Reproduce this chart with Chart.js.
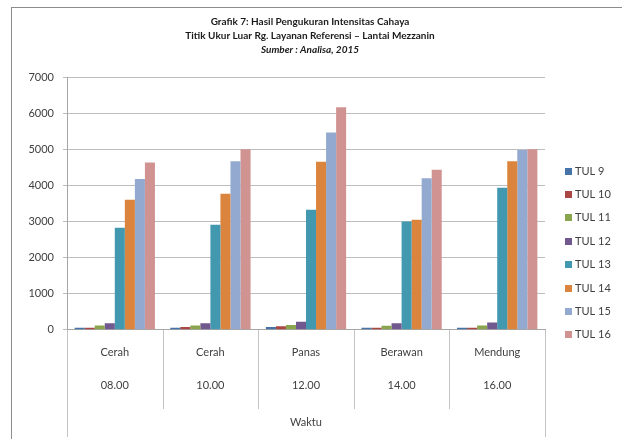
<!DOCTYPE html>
<html>
<head>
<meta charset="utf-8">
<script src="https://cdn.jsdelivr.net/npm/chart.js@4/dist/chart.umd.min.js"></script>
<style>
  html, body { margin: 0; padding: 0; background: #ffffff; }
  #wrap { width: 622px; height: 439px; position: relative; }
</style>
</head>
<body>
<div id="wrap"><canvas id="c" width="622" height="439"></canvas></div>
<script>
// Light intensity (lux) per measuring point, per observation time
const conditions = ['Cerah', 'Cerah', 'Panas', 'Berawan', 'Mendung'];
const times = ['08.00', '10.00', '12.00', '14.00', '16.00'];
const seriesNames = ['TUL 9', 'TUL 10', 'TUL 11', 'TUL 12', 'TUL 13', 'TUL 14', 'TUL 15', 'TUL 16'];

const tul9  = [60, 60, 80, 55, 55];
const tul10 = [55, 80, 100, 55, 55];
const tul11 = [120, 120, 130, 110, 120];
const tul12 = [180, 180, 220, 180, 200];
const tul13 = [2825, 2910, 3325, 3000, 3935];
const tul14 = [3600, 3770, 4650, 3045, 4665];
const tul15 = [4175, 4665, 5465, 4195, 4980];
const tul16 = [4630, 5000, 6160, 4435, 5000];

const yTicks = [0, 1000, 2000, 3000, 4000, 5000, 6000, 7000];

const colors = ['#4572A7', '#AA4643', '#89A54E', '#71588F', '#4198AF', '#DB843D', '#93A9CF', '#D19392'];
const values = [tul9, tul10, tul11, tul12, tul13, tul14, tul15, tul16];

const FONT = 'Lato, "Open Sans", sans-serif';
const TEXT = '#404040';

// Frame, category table lines and legend
const decorations = {
  id: 'decorations',
  afterDraw(chart) {
    const ctx = chart.ctx;
    const area = chart.chartArea;
    ctx.save();
    // outer frame
    ctx.strokeStyle = '#8c8c8c';
    ctx.lineWidth = 1;
    ctx.strokeRect(11.5, 7.5, 700, 500);

    // category separators under the axis
    ctx.strokeStyle = '#c4c4c4';
    const n = chart.data.labels.length;
    const step = (area.right - area.left) / n;
    for (let i = 0; i <= n; i++) {
      const px = Math.round(area.left + i * step) + 0.5;
      const outer = (i === 0 || i === n);
      ctx.beginPath();
      ctx.moveTo(px, area.bottom);
      ctx.lineTo(px, outer ? 437 : 409);
      ctx.stroke();
    }

    // legend
    ctx.font = '11px ' + FONT;
    ctx.textBaseline = 'middle';
    ctx.textAlign = 'left';
    chart.data.datasets.forEach((ds, i) => {
      const cy = 171 + i * 23.4;
      ctx.fillStyle = ds.backgroundColor;
      ctx.fillRect(565, Math.round(cy - 3.5), 7, 7);
      ctx.fillStyle = TEXT;
      ctx.fillText(ds.label, 575, cy);
    });
    ctx.restore();
  }
};

new Chart(document.getElementById('c'), {
  type: 'bar',
  data: {
    labels: conditions.map((c, i) => [c, times[i]]),
    datasets: seriesNames.map((name, i) => ({
      label: name,
      data: values[i],
      backgroundColor: colors[i],
      borderWidth: 0,
      categoryPercentage: 0.84,
      barPercentage: 1.0
    }))
  },
  options: {
    responsive: false,
    animation: false,
    devicePixelRatio: 1,
    layout: { padding: { left: 0, right: 2, top: 0, bottom: 0 } },
    plugins: {
      legend: { display: false },
      tooltip: { enabled: false },
      title: {
        display: true,
        text: ['Grafik 7: Hasil Pengukuran Intensitas Cahaya', 'Titik Ukur Luar Rg. Layanan Referensi \u2013 Lantai Mezzanin'],
        color: '#1a1a1a',
        font: { family: FONT, size: 10, weight: 'bold', lineHeight: 1.4 },
        padding: { top: 15, bottom: 0 }
      },
      subtitle: {
        display: true,
        text: 'Sumber : Analisa, 2015',
        color: '#1a1a1a',
        font: { family: FONT, size: 10, weight: 'bold', style: 'italic', lineHeight: 1.4 },
        padding: { top: 0, bottom: 20 }
      }
    },
    scales: {
      x: {
        grid: { display: false, drawTicks: false },
        border: { display: true, color: '#a6a6a6' },
        ticks: {
          color: TEXT,
          font: { family: FONT, size: 11, lineHeight: 3 },
          padding: 6,
          maxRotation: 0,
          autoSkip: false
        },
        title: {
          display: true,
          text: 'Waktu',
          color: TEXT,
          font: { family: FONT, size: 11, lineHeight: 1.2 },
          padding: { top: 8, bottom: 10 }
        }
      },
      y: {
        min: 0,
        max: 7000,
        afterBuildTicks(scale) { scale.ticks = yTicks.map(v => ({ value: v })); },
        afterFit(scale) { scale.width = 67; },
        grid: { color: '#bdbdbd', tickLength: 4 },
        border: { display: true, color: '#a6a6a6' },
        ticks: {
          color: TEXT,
          font: { family: FONT, size: 11 },
          padding: 9,
          callback: (v) => String(v)
        }
      },
      // empty right-hand axis reserving room for the legend
      legendSpace: {
        type: 'linear',
        position: 'right',
        display: true,
        afterFit(scale) { scale.width = 75; },
        grid: { display: false, drawTicks: false },
        border: { display: false },
        ticks: { display: false }
      }
    }
  },
  plugins: [decorations]
});
</script>
</body>
</html>
